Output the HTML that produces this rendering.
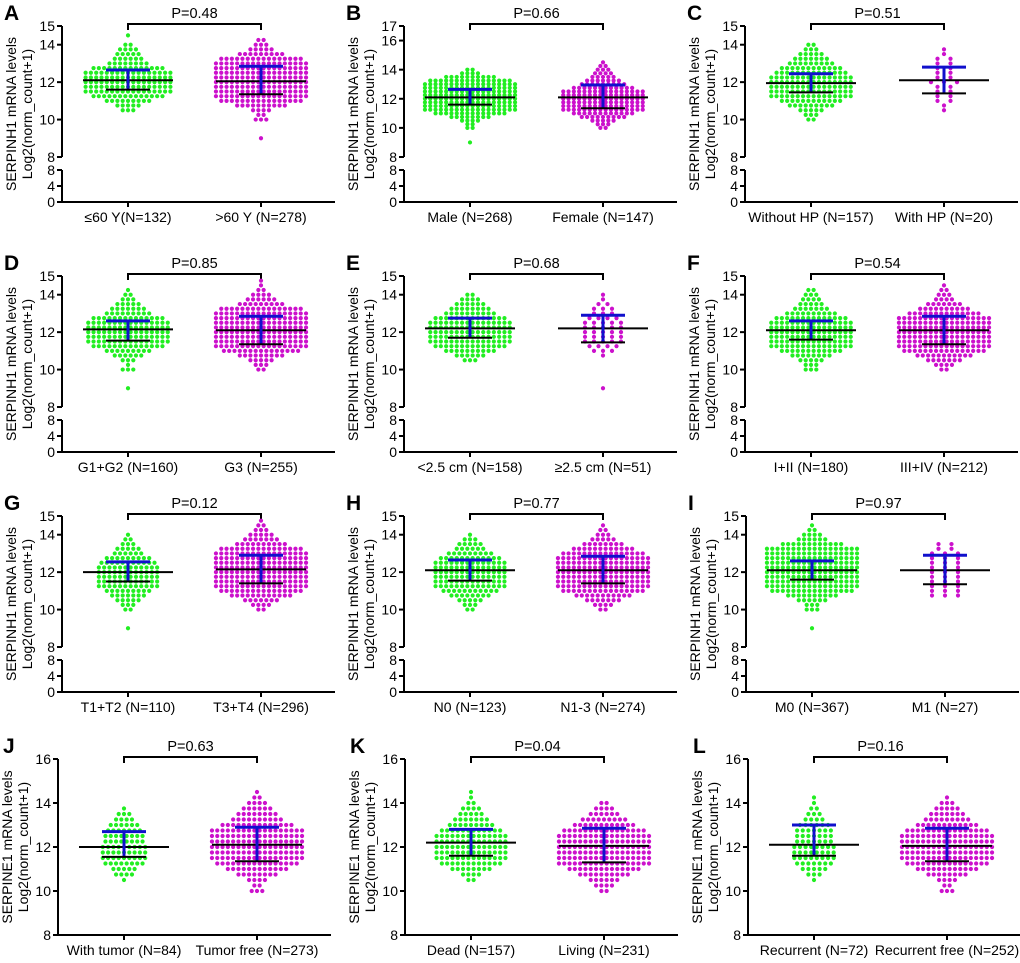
<!DOCTYPE html>
<html><head><meta charset="utf-8">
<style>
html,body{margin:0;padding:0;background:#fff;}
svg{display:block;font-family:"Liberation Sans",Arial,sans-serif;}
</style></head>
<body>
<svg id="fig" width="1020" height="963" viewBox="0 0 1020 963" xmlns="http://www.w3.org/2000/svg"></svg>
<script>
// bins: 9.0 .. 14.75 step 0.25
const binStart = 9.0, binStep = 0.25;
const letters = ["A","B","C","D","E","F","G","H","I","J","K","L"];
const pValues = ["P=0.48","P=0.66","P=0.51","P=0.85","P=0.68","P=0.54","P=0.12","P=0.77","P=0.97","P=0.63","P=0.04","P=0.16"];
const catLabels = [
 ["≤60 Y(N=132)",">60 Y (N=278)"],["Male (N=268)","Female (N=147)"],["Without HP (N=157)","With HP (N=20)"],
 ["G1+G2 (N=160)","G3 (N=255)"],["<2.5 cm (N=158)","≥2.5  cm (N=51)"],["I+II (N=180)","III+IV (N=212)"],
 ["T1+T2 (N=110)","T3+T4 (N=296)"],["N0 (N=123)","N1-3 (N=274)"],["M0 (N=367)","M1 (N=27)"],
 ["With tumor (N=84)","Tumor free (N=273)"],["Dead (N=157)","Living (N=231)"],["Recurrent (N=72)","Recurrent free (N=252)"]];
const counts1 = [
 [0,0,0,0,0,0,3,5,9,14,17,17,17,17,17,14,8,6,5,4,2,0,1,0],
 [1,0,0,0,2,2,4,8,14,18,18,18,18,18,18,18,18,16,10,4,2,0,0,0],
 [0,0,0,0,2,3,5,9,12,16,16,16,16,16,14,12,9,7,5,3,2,0,0,0],
 [1,0,0,0,3,1,3,6,9,14,16,16,16,16,16,14,9,7,5,3,2,1,0,0],
 [0,0,0,0,0,0,3,6,10,14,16,16,16,16,16,14,10,8,6,4,2,0,0,0],
 [0,0,0,0,3,3,5,8,12,16,16,16,16,16,16,14,10,7,5,4,3,2,0,0],
 [1,0,0,0,2,3,5,7,9,12,12,12,12,12,11,9,6,5,3,2,1,0,0,0],
 [0,0,0,0,2,3,5,8,11,14,14,14,14,14,14,12,9,6,5,3,1,0,0,0],
 [1,0,0,0,3,3,6,10,16,18,18,18,18,18,18,18,18,18,12,6,4,2,1,0],
 [0,0,0,0,0,0,1,4,5,8,9,9,9,8,8,7,6,4,3,1,0,0,0,0],
 [0,0,0,0,0,0,2,4,8,12,14,14,14,14,14,12,9,7,5,4,2,1,1,0],
 [0,0,0,0,0,0,1,3,5,7,8,8,8,7,7,7,6,4,3,2,1,1,0,0]];
const counts2 = [
 [1,0,0,0,3,2,4,10,16,18,18,18,18,18,18,18,18,16,9,5,3,2,0,0],
 [0,0,0,0,2,3,5,9,12,16,16,16,16,16,16,12,9,7,5,4,3,2,1,0],
 [0,0,0,0,0,0,1,1,2,2,2,2,3,2,2,2,2,2,1,1,0,0,0,0],
 [0,0,0,0,2,3,5,9,15,18,18,18,18,18,18,18,18,16,9,6,4,2,1,1],
 [1,0,0,0,0,0,0,1,3,4,5,5,5,5,5,4,3,3,2,1,1,0,0,0],
 [0,0,0,0,2,4,7,11,16,18,18,18,18,18,18,18,14,10,7,4,3,2,1,0],
 [0,0,0,0,2,4,7,12,16,18,18,18,18,18,18,18,18,16,10,7,5,3,2,1],
 [0,0,0,0,2,4,7,11,16,18,18,18,18,18,18,18,16,12,8,5,3,2,1,0],
 [0,0,0,0,0,0,0,3,3,3,3,3,3,3,3,3,3,2,2,0,0,0,0,0],
 [0,0,0,0,3,2,4,8,12,16,18,18,18,18,18,18,14,10,8,6,4,2,1,0],
 [0,0,0,0,2,4,6,10,14,18,18,18,18,18,18,16,12,9,6,4,2,0,0,0],
 [0,0,0,0,3,2,4,8,12,16,18,18,18,18,18,16,12,9,7,5,3,1,0,0]];
const mean1 = [12.1,12.1,11.95,12.15,12.2,12.1,12.0,12.1,12.1,12.0,12.2,12.1];
const low1  = [11.6,11.6,11.45,11.55,11.7,11.6,11.5,11.55,11.6,11.55,11.6,11.6];
const high1 = [12.65,12.65,12.45,12.6,12.75,12.6,12.55,12.65,12.6,12.7,12.8,13.0];
const mean2 = [12.05,12.1,12.1,12.1,12.2,12.1,12.15,12.1,12.1,12.1,12.05,12.05];
const low2  = [11.35,11.35,11.4,11.35,11.45,11.35,11.4,11.4,11.35,11.35,11.3,11.35];
const high2 = [12.85,12.95,12.8,12.85,12.9,12.85,12.9,12.85,12.9,12.9,12.85,12.85];
const yMaxUpper = [15,17,15,15,15,15,15,15,15,16,16,16];
const upperTicks = [[8,10,12,14,15],[8,10,12,14,16,17],[8,10,12,14,15],[8,10,12,14,15],[8,10,12,14,15],[8,10,12,14,15],[8,10,12,14,15],[8,10,12,14,15],[8,10,12,14,15],[8,10,12,14,16],[8,10,12,14,16],[8,10,12,14,16]];
const lowerTicks = [0,4,8];

const NS="http://www.w3.org/2000/svg";
const svg=document.getElementById('fig');
function mk(tag,attrs,parent){const e=document.createElementNS(NS,tag);for(const k in attrs)e.setAttribute(k,attrs[k]);(parent||svg).appendChild(e);return e;}

const colX=[[62,404,745],[62,404,745],[62,404,746],[58,405,748]];
const rowTop=[26,276,516,759];

for(let p=0;p<12;p++){
  const r=Math.floor(p/3), c=p%3;
  const ax=colX[r][c], top=rowTop[r];
  const broken = r<3;
  const bot8 = broken? top+131 : top+176;
  const zero = broken? top+176 : bot8;
  const g=mk('g',{});
  
  
  const ymax=yMaxUpper[p];
  const yU=v=>bot8-(v-8)/(ymax-8)*(bot8-top);
  const yL=v=>zero-(v/8)*(zero-(top+144));
  const c1=ax+66, c2=ax+199;
  const L=mk('text',{x:ax-58+(r==3?3:0),y:top-6,'font-size':21,'font-weight':'bold'},g);L.textContent=letters[p];
  
  
  const ya=mk('path',{d:`M${ax},${top}V${bot8}`,stroke:'#000','stroke-width':2,fill:'none'},g);
  
  
  upperTicks[p].forEach(t=>{
    mk('line',{x1:ax-5,x2:ax,y1:yU(t),y2:yU(t),stroke:'#000','stroke-width':2},g);
    const tx=mk('text',{x:ax-7,y:yU(t)+5,'font-size':14,'text-anchor':'end'},g);tx.textContent=t;
    
    
  });
  if(broken){
    mk('path',{d:`M${ax},${top+144}V${zero}`,stroke:'#000','stroke-width':2,fill:'none'},g);
    lowerTicks.forEach(t=>{
      mk('line',{x1:ax-5,x2:ax,y1:yL(t),y2:yL(t),stroke:'#000','stroke-width':2},g);
      const tx=mk('text',{x:ax-7,y:yL(t)+5,'font-size':14,'text-anchor':'end'},g);tx.textContent=t;
      
      
    });
  }
  const xa=mk('path',{d:`M${ax-1},${zero}H${ax+273}M${c1},${zero}v5M${c2},${zero}v5`,stroke:'#000','stroke-width':2,fill:'none'},g);
  
  
  [c1,c2].forEach((cx,i)=>{
    const t=mk('text',{x:cx,y:zero+20,'font-size':14,'text-anchor':'middle'},g);t.textContent=catLabels[p][i];
    
    
  });
  const midY=(top+zero)/2;
  const gene = r==3?'SERPINE1':'SERPINH1';
  const t1=mk('text',{x:0,y:0,'font-size':14,'text-anchor':'middle',transform:`translate(${ax-46},${midY}) rotate(-90)`},g);t1.textContent=gene+' mRNA levels';
  
  
  const t2=mk('text',{x:0,y:0,'font-size':14,'text-anchor':'middle',transform:`translate(${ax-30},${midY}) rotate(-90)`},g);t2.textContent='Log2(norm_count+1)';
  
  
  const by=top-2;
  const br=mk('path',{d:`M${c1},${by+6}V${by}H${c2}V${by+6}`,stroke:'#000','stroke-width':2,fill:'none'},g);
  
  
  const pt=mk('text',{x:(c1+c2)/2,y:by-6,'font-size':14.5,'text-anchor':'middle'},g);pt.textContent=pValues[p];
  
  
  [[counts1[p],c1,'#22ee22'],[counts2[p],c2,'#cc11cc']].forEach(([arr,cx,col],gi)=>{
    const sg=mk('g',{fill:col},g);
    
    
    const mx=Math.max(...arr);
    const dx=Math.max(5.3, Math.min(13, 45/mx));
    arr.forEach((n,bi)=>{
      const v=binStart+bi*binStep, y=yU(v);
      for(let i=0;i<n;i++){
        const d=mk('circle',{cx:cx+(i-(n-1)/2)*dx,cy:y,r:2.1},sg);
        
        
      }
    });
  });
  [[mean1[p],low1[p],high1[p],c1],[mean2[p],low2[p],high2[p],c2]].forEach(([m,lo,hi,cx])=>{
    const ml=mk('line',{x1:cx-45,x2:cx+45,y1:yU(m),y2:yU(m),stroke:'#000','stroke-width':2},g);
    
    
    const v=mk('line',{x1:cx,x2:cx,y1:yU(hi),y2:yU(lo),stroke:'#1010cc','stroke-width':3},g);
    
    
    const h=mk('line',{x1:cx-22,x2:cx+22,y1:yU(hi),y2:yU(hi),stroke:'#1010cc','stroke-width':3},g);
    
    
    const l=mk('line',{x1:cx-22,x2:cx+22,y1:yU(lo),y2:yU(lo),stroke:'#000','stroke-width':2},g);
    
    
  });
}
</script>
</body></html>
